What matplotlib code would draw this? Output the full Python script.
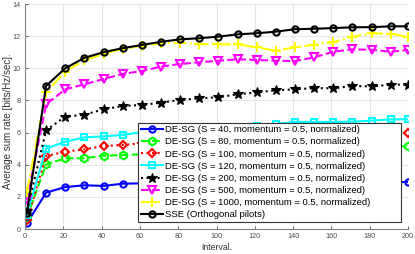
import matplotlib
matplotlib.use("Agg")
import matplotlib.pyplot as plt

plt.rcParams['font.family'] = ['Liberation Sans', 'DejaVu Sans']

# --- data ---
x = [1, 11, 21, 31, 41, 51, 61, 71, 81, 91, 101, 111, 121, 131, 141, 151, 161, 171, 181, 191, 200]

s40 = [0.35, 2.26, 2.61, 2.72, 2.68, 2.82, 2.84, 2.85, 2.86, 2.87, 2.87, 2.88, 2.88, 2.89, 2.89, 2.90, 2.90, 2.91, 2.91, 2.92, 2.92]
s80 = [0.70, 4.02, 4.40, 4.40, 4.56, 4.60, 4.65, 4.70, 4.75, 4.80, 4.82, 4.85, 4.90, 4.92, 4.95, 5.00, 5.02, 5.05, 5.08, 5.12, 5.16]
s100 = [0.55, 4.54, 4.81, 4.96, 5.16, 5.23, 5.33, 5.40, 5.45, 5.50, 5.55, 5.60, 5.65, 5.70, 5.75, 5.80, 5.83, 5.87, 5.90, 5.95, 5.99]
s120 = [0.90, 5.00, 5.43, 5.70, 5.77, 5.85, 6.03, 6.10, 6.20, 6.25, 6.30, 6.35, 6.41, 6.53, 6.66, 6.66, 6.66, 6.68, 6.74, 6.82, 6.83]
s200 = [1.10, 6.14, 6.99, 7.11, 7.45, 7.65, 7.72, 7.86, 8.03, 8.13, 8.20, 8.38, 8.50, 8.63, 8.69, 8.77, 8.75, 8.90, 8.87, 8.98, 8.98]
s500 = [1.80, 7.75, 8.69, 9.00, 9.33, 9.65, 9.83, 10.10, 10.27, 10.37, 10.47, 10.56, 10.52, 10.47, 10.45, 10.68, 11.03, 11.18, 11.15, 11.03, 11.14]
s1000 = [2.30, 8.50, 9.80, 10.50, 10.90, 11.20, 11.40, 11.55, 11.60, 11.50, 11.49, 11.49, 11.30, 11.10, 11.30, 11.48, 11.63, 11.97, 12.17, 12.15, 11.95]
sse = [1.00, 8.90, 10.00, 10.65, 11.00, 11.25, 11.45, 11.65, 11.80, 11.87, 11.97, 12.11, 12.18, 12.28, 12.43, 12.46, 12.50, 12.55, 12.56, 12.61, 12.61]

labels = [
    "DE-SG (S = 40, momentum = 0.5, normalized)",
    "DE-SG (S = 80, momentum = 0.5, normalized)",
    "DE-SG (S = 100, momentum = 0.5, normalized)",
    "DE-SG (S = 120, momentum = 0.5, normalized)",
    "DE-SG (S = 200, momentum = 0.5, normalized)",
    "DE-SG (S = 500, momentum = 0.5, normalized)",
    "DE-SG (S = 1000, momentum = 0.5, normalized)",
    "SSE (Orthogonal pilots)",
]

fig = plt.figure(figsize=(4.15, 2.54), dpi=100)
ax = fig.add_axes([25 / 415, 25 / 254, 383 / 415, 225 / 254])

lw = 1.5
ms = 4.5
ax.plot(x, s40, color='#0000ff', ls='-', marker='o', lw=lw, ms=ms, mfc='none', mew=1.5)
ax.plot(x, s80, color='#00ff00', ls='--', marker='h', lw=lw, ms=ms + 1, mfc='none', mew=1.5)
ax.plot(x, s100, color='#ff0000', ls=':', marker='D', lw=lw, ms=ms - 0.5, mfc='none', mew=1.5)
ax.plot(x, s120, color='#00ffff', ls='-', marker='s', lw=lw, ms=ms, mfc='none', mew=1.5)
ax.plot(x, s200, color='#000000', ls=':', marker='*', lw=lw, ms=ms + 3, mfc='#000000', mew=0.8)
ax.plot(x, s500, color='#ff00ff', ls='--', marker='v', lw=lw, ms=ms + 1, mfc='none', mew=1.5)
ax.plot(x, s1000, color='#ffff00', ls='-.', marker='+', lw=lw, ms=ms + 2, mew=1.5)
ax.plot(x, sse, color='#000000', ls='-', marker='o', lw=lw, ms=ms, mfc='none', mew=1.5)

ax.set_xlim(0, 200)
ax.set_ylim(0, 14)
ax.set_xticks(range(0, 201, 20))
ax.set_yticks(range(0, 15, 2))
ax.grid(True, color='#e6e6e6', lw=0.8)
ax.set_axisbelow(True)
for side in ['top', 'right']:
    ax.spines[side].set_visible(False)
for side in ['left', 'bottom']:
    ax.spines[side].set_color('#808080')
    ax.spines[side].set_linewidth(0.8)
ax.tick_params(labelsize=5.2, colors='#4d4d4d', direction='in', length=2.5, width=0.6, pad=3)

ax.set_xlabel("Interval.", fontsize=6.2, color='#333333', labelpad=2)
ax.set_ylabel("Average sum rate [bits/Hz/sec].", fontsize=7, color='#333333')
ax.yaxis.set_label_coords(-12 / 383, 0.48)

leg = ax.legend(labels, loc='lower left', bbox_to_anchor=((138 - 25) / 383, 7 / 225, 263 / 383, 0.3),
                mode='expand', fontsize=6.8,
                frameon=True, fancybox=False, edgecolor='#333333', framealpha=1,
                labelspacing=0.33, handlelength=2.3, handletextpad=0.3, borderpad=0.3,
                borderaxespad=0)
leg.get_frame().set_linewidth(0.8)

fig.savefig("out.png", dpi=100)
